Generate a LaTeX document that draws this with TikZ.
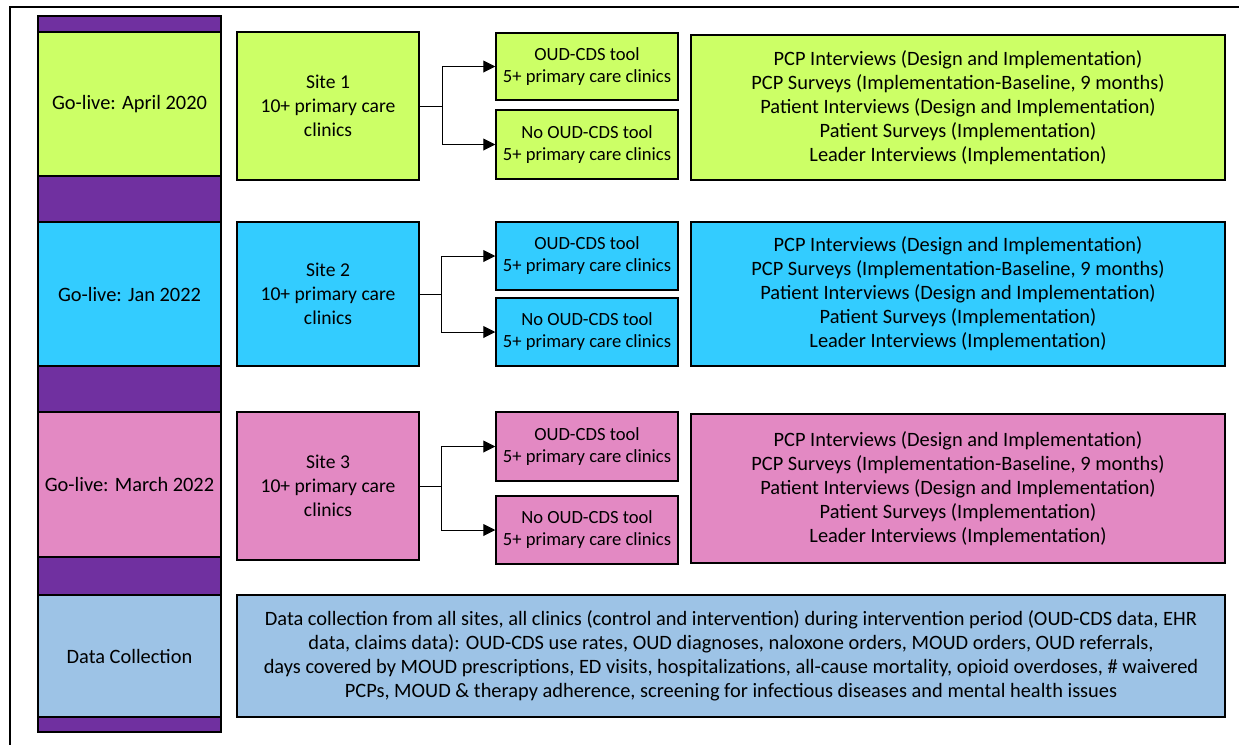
\documentclass[tikz,border=0pt]{standalone}
\usepackage{fontspec}
\setmainfont{Carlito}
\usetikzlibrary{arrows.meta}

\definecolor{golivegreen}{HTML}{CCFF66}
\definecolor{goliveblue}{HTML}{33CCFF}
\definecolor{golivepink}{HTML}{E389C3}
\definecolor{datablue}{HTML}{9DC3E6}
\definecolor{barpurple}{HTML}{7030A0}

\begin{document}
\begin{tikzpicture}[
    x=0.5pt, y=-0.5pt,
    box/.style={rectangle, draw, line width=0.75pt, inner sep=0pt, align=center, font=\fontsize{10.2}{12}\selectfont},
    stage/.style={box, minimum width=91.5pt},
    bar/.style={rectangle, draw, line width=0.75pt, fill=barpurple, minimum width=91.5pt, inner sep=0pt},
    site/.style={box, minimum width=91pt, font=\fontsize{9.8}{12}\selectfont},
    arm/.style={box, minimum width=91pt, font=\fontsize{9.3}{11}\selectfont},
    plan/.style={box, minimum width=267pt},
    arrow/.style={-{Triangle[length=6pt,width=6pt]}, line width=0.5pt}
  ]
    \useasboundingbox (0,0) rectangle (1239,745);

    % Outer frame (open at right and bottom)
    \draw[line width=1pt] (9.5,745) -- (9.5,6.5) -- (1239,6.5);

    % Purple spacer bars in the left column
    \node[bar, minimum height=8pt] (bar0) at (129.5,24) {};
    \node[bar, minimum height=23pt] (bar1) at (129.5,199) {};
    \node[bar, minimum height=23pt] (bar2) at (129.5,389) {};
    \node[bar, minimum height=19pt] (bar3) at (129.5,576) {};
    \node[bar, minimum height=7.5pt] (bar4) at (129.5,724.5) {};

    % Go-live stages
    \node[stage, fill=golivegreen, minimum height=72pt] (go1) at (129.5,104) {Go-live: April 2020};
    \node[stage, fill=goliveblue, minimum height=72pt] (go2) at (129.5,294) {Go-live: Jan 2022};
    \node[stage, fill=golivepink, minimum height=72.5pt] (go3) at (129.5,484.5) {Go-live: March 2022};
    \node[stage, fill=datablue, minimum height=61pt] (godata) at (129.5,656) {Data Collection};

    % Sites
    \node[site, fill=golivegreen, minimum height=74pt] (site1) at (328,106) {Site 1\\10+ primary care\\clinics};
    \node[site, fill=goliveblue, minimum height=72pt] (site2) at (328,294) {Site 2\\10+ primary care\\clinics};
    \node[site, fill=golivepink, minimum height=74pt] (site3) at (328,486) {Site 3\\10+ primary care\\clinics};

    % Study arms
    \node[arm, fill=golivegreen, minimum height=33.5pt] (tool1) at (587,66.5) {OUD-CDS tool\\5+ primary care clinics};
    \node[arm, fill=golivegreen, minimum height=34.5pt] (notool1) at (587,144.5) {No OUD-CDS tool\\5+ primary care clinics};
    \node[arm, fill=goliveblue, minimum height=34pt] (tool2) at (587,256) {OUD-CDS tool\\5+ primary care clinics};
    \node[arm, fill=goliveblue, minimum height=34pt] (notool2) at (587,332) {No OUD-CDS tool\\5+ primary care clinics};
    \node[arm, fill=golivepink, minimum height=34.5pt] (tool3) at (587,446.5) {OUD-CDS tool\\5+ primary care clinics};
    \node[arm, fill=golivepink, minimum height=34pt] (notool3) at (587,530) {No OUD-CDS tool\\5+ primary care clinics};

    % Qualitative data plans
    \node[plan, fill=golivegreen, minimum height=72.5pt] (plan1) at (958,107.5) {PCP Interviews (Design and Implementation)\\PCP Surveys (Implementation-Baseline, 9 months)\\Patient Interviews (Design and Implementation)\\Patient Surveys (Implementation)\\Leader Interviews (Implementation)};
    \node[plan, fill=goliveblue, minimum height=72pt] (plan2) at (958,294) {PCP Interviews (Design and Implementation)\\PCP Surveys (Implementation-Baseline, 9 months)\\Patient Interviews (Design and Implementation)\\Patient Surveys (Implementation)\\Leader Interviews (Implementation)};
    \node[plan, fill=golivepink, minimum height=74.5pt] (plan3) at (958,488.5) {PCP Interviews (Design and Implementation)\\PCP Surveys (Implementation-Baseline, 9 months)\\Patient Interviews (Design and Implementation)\\Patient Surveys (Implementation)\\Leader Interviews (Implementation)};

    % Data collection across sites
    \node[box, fill=datablue, minimum width=494pt, minimum height=61pt] (data) at (731,656) {Data collection from all sites, all clinics (control and intervention) during intervention period (OUD-CDS data, EHR\\data, claims data): OUD-CDS use rates, OUD diagnoses, naloxone orders, MOUD orders, OUD referrals,\\days covered by MOUD prescriptions, ED visits, hospitalizations, all-cause mortality, opioid overdoses, \# waivered\\PCPs, MOUD \& therapy adherence, screening for infectious diseases and mental health issues};

    % Branching arrows from sites to arms
    \draw[arrow] (site1.east) -- ++(23,0) |- (tool1.west);
    \draw[arrow] (site1.east) -- ++(23,0) |- (notool1.west);
    \draw[arrow] (site2.east) -- ++(22,0) |- (tool2.west);
    \draw[arrow] (site2.east) -- ++(22,0) |- (notool2.west);
    \draw[arrow] (site3.east) -- ++(22,0) |- (tool3.west);
    \draw[arrow] (site3.east) -- ++(22,0) |- (notool3.west);

  \end{tikzpicture}
\end{document}
